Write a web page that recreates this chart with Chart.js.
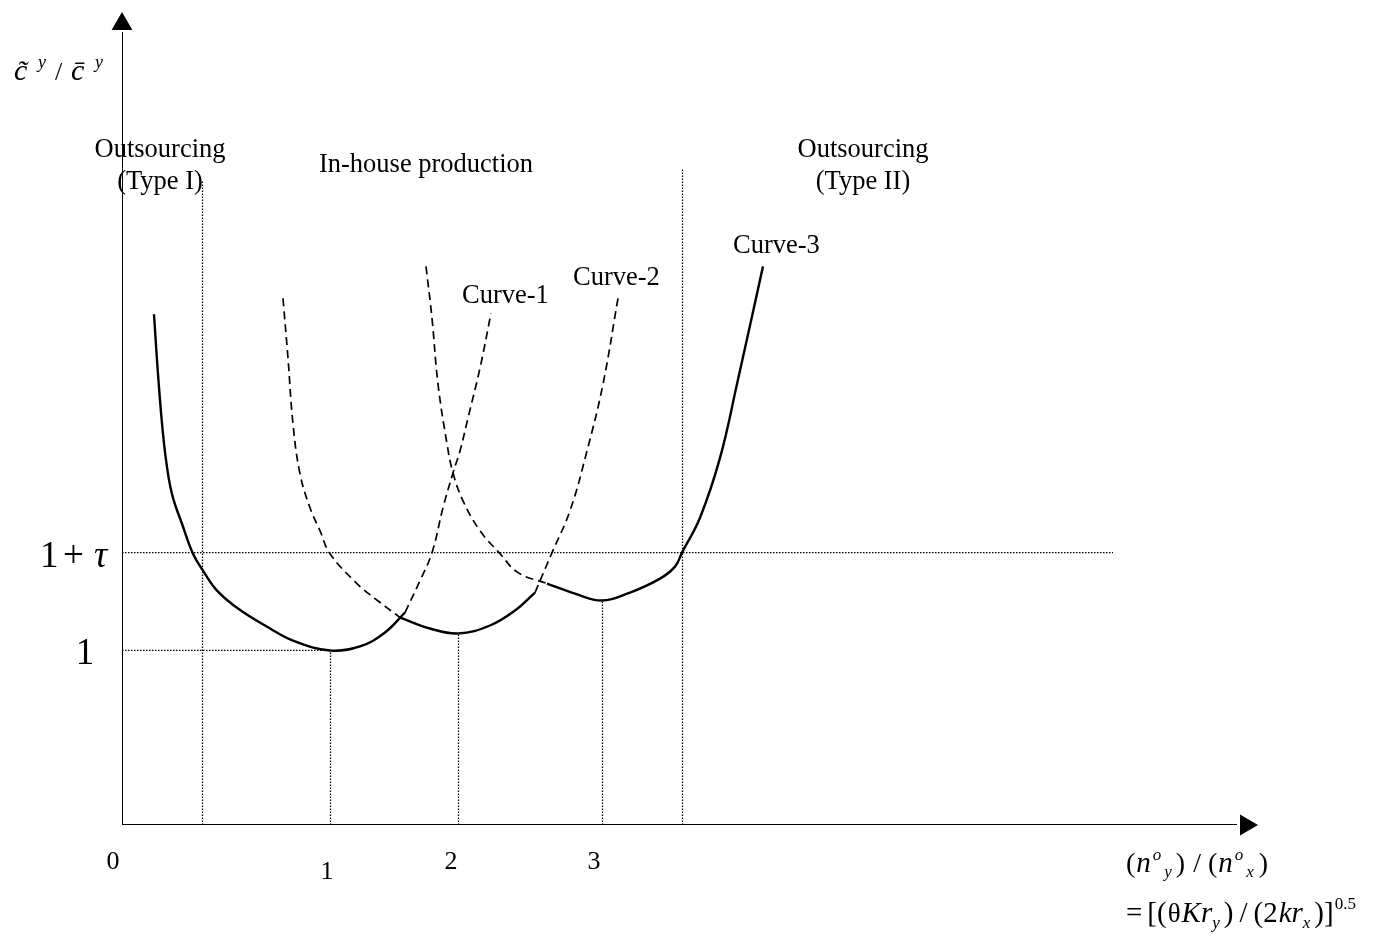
<!DOCTYPE html>
<html>
<head>
<meta charset="utf-8">
<script src="https://cdn.jsdelivr.net/npm/chart.js@4.4.1/dist/chart.umd.min.js"></script>
<style>
	html, body { margin: 0; background: #fff; }
	#wrap { width: 1374px; height: 942px; position: relative; }
</style>
</head>
<body>
<div id="wrap"><canvas id="canvas"></canvas></div>
<script>
// schematic units: 1 unit on each axis = 100 px of the original figure
const X_MAX = 11.36;
const Y_MAX = 8.15;

const xTickLabels = ["0", "1", "2", "3"];
const xTickPos = [-0.09, 2.05, 3.29, 4.72];
const yOne = 1.75;   // level "1"
const yTau = 2.73;   // level "1+τ"

// vertical dotted guides: x position and top
const vLineX = [0.805, 2.085, 3.365, 4.805, 5.605];
const vLineTop = [6.45, yOne, 1.92, 2.25, 6.57];
const tauLineEnd = 9.91;

// Curve-1 (min at "1")
const curve1Solid = [[0.32, 5.12], [0.36, 4.52], [0.41, 3.92], [0.46, 3.52], [0.51, 3.28], [0.60, 3.02],
	[0.71, 2.72], [0.81, 2.55], [0.95, 2.35], [1.16, 2.17], [1.43, 2.00], [1.73, 1.84], [2.08, 1.75],
	[2.38, 1.79], [2.63, 1.93], [2.83, 2.13]];
const curve1Dash = [[2.83, 2.13], [2.98, 2.45], [3.10, 2.73], [3.21, 3.18], [3.31, 3.53], [3.38, 3.75],
	[3.46, 4.08], [3.58, 4.58], [3.69, 5.13]];

// Curve-2 (min at "2")
const curve2DashLeft = [[1.61, 5.28], [1.66, 4.68], [1.71, 4.02], [1.78, 3.52], [1.88, 3.18], [1.98, 2.95],
	[2.08, 2.72], [2.35, 2.42], [2.53, 2.27], [2.78, 2.08]];
const curve2Solid = [[2.78, 2.08], [3.08, 1.97], [3.36, 1.92], [3.68, 2.00], [3.93, 2.15], [4.13, 2.33]];
const curve2DashRight = [[4.13, 2.33], [4.30, 2.73], [4.48, 3.15], [4.65, 3.75], [4.81, 4.42], [4.96, 5.28]];

// Curve-3 (min at "3")
const curve3Dash = [[3.04, 5.60], [3.10, 5.08], [3.16, 4.42], [3.25, 3.82], [3.31, 3.53], [3.41, 3.25],
	[3.58, 2.95], [3.78, 2.72], [3.96, 2.53], [4.25, 2.42]];
const curve3Solid = [[4.25, 2.42], [4.53, 2.32], [4.80, 2.25], [5.08, 2.33], [5.38, 2.47], [5.53, 2.59],
	[5.60, 2.73], [5.78, 3.08], [5.98, 3.68], [6.15, 4.42], [6.41, 5.60]];

const SOLID = { borderWidth: 2.4, borderDash: [], tension: 0.4 };
const DASH = { borderWidth: 1.7, borderDash: [8, 5], tension: 0.4 };
const DOT = { borderWidth: 1.3, borderDash: [1.5, 1.5] };

function seg(pts, style) {
	return Object.assign({
		data: pts.map(([x, y]) => ({ x, y })),
		borderColor: "#000",
		pointRadius: 0,
		fill: false,
	}, style);
}

const datasets = [
	seg(curve1Solid, SOLID), seg(curve1Dash, DASH),
	seg(curve2DashLeft, DASH), seg(curve2Solid, SOLID), seg(curve2DashRight, DASH),
	seg(curve3Dash, DASH), seg(curve3Solid, SOLID),
	seg([[0, yTau], [tauLineEnd, yTau]], DOT),
	seg([[0, yOne], [vLineX[1], yOne]], DOT),
	...vLineX.map((x, i) => seg([[x, 0], [x, vLineTop[i]]], DOT)),
	// axes
	seg([[0, 0], [11.15, 0]], { borderWidth: 2 }),
	seg([[0, 0], [0, 7.95]], { borderWidth: 2 }),
	// arrow heads
	{ data: [{ x: 11.24, y: 0 }], pointStyle: "triangle", pointRadius: 12, rotation: 90,
		backgroundColor: "#000", borderColor: "#000", borderWidth: 0, showLine: false, clip: false },
	{ data: [{ x: 0, y: 8.03 }], pointStyle: "triangle", pointRadius: 12, rotation: 0,
		backgroundColor: "#000", borderColor: "#000", borderWidth: 0, showLine: false, clip: false },
];

const SERIF = "'Liberation Serif', 'Times New Roman', serif";

function runs(ctx, x, y, parts) {
	for (const p of parts) {
		ctx.font = (p.i ? "italic " : "") + p.s + "px " + SERIF;
		ctx.fillText(p.t, x, y + (p.dy || 0));
		x += ctx.measureText(p.t).width + (p.g || 0);
	}
}

function put(ctx, t, x, y, size, italic) {
	ctx.font = (italic ? "italic " : "") + size + "px " + SERIF;
	ctx.fillText(t, x, y);
}

const labelsPlugin = {
	id: "labels",
	afterDraw(chart) {
		const ctx = chart.ctx;
		const xs = chart.scales.x;
		ctx.save();
		ctx.fillStyle = "#000";
		ctx.textBaseline = "alphabetic";

		ctx.textAlign = "center";
		ctx.font = "26.5px " + SERIF;
		ctx.fillText("Outsourcing", 160, 157);
		ctx.fillText("(Type I)", 160, 189);
		ctx.fillText("In-house production", 426, 172);
		ctx.fillText("Outsourcing", 863, 157);
		ctx.fillText("(Type II)", 863, 189);

		ctx.textAlign = "left";
		ctx.fillText("Curve-1", 462, 303);
		ctx.fillText("Curve-2", 573, 285);
		ctx.fillText("Curve-3", 733, 253);

		ctx.textAlign = "center";
		ctx.font = "26px " + SERIF;
		const tickBase = [869, 879, 869, 869];
		xTickLabels.forEach((t, i) => ctx.fillText(t, xs.getPixelForValue(xTickPos[i]), tickBase[i]));

		ctx.textAlign = "left";
		put(ctx, "1", 40, 567, 37);
		put(ctx, "+", 63, 567, 37);
		put(ctx, "τ", 94, 567, 37, true);
		ctx.textAlign = "center";
		put(ctx, "1", 85, 664, 37);

		// y axis title
		ctx.textAlign = "left";
		put(ctx, "c\u0303", 14, 80, 30, true);
		put(ctx, "y", 38, 68, 18, true);
		put(ctx, "/", 55, 80, 26);
		put(ctx, "c\u0304", 71, 80, 30, true);
		put(ctx, "y", 95, 68, 18, true);

		// x axis title
		runs(ctx, 1126, 872, [
			{ t: "(", s: 28, g: 1 },
			{ t: "n", i: 1, s: 29, g: 2 },
			{ t: "o", i: 1, s: 17, dy: -12, g: 3 },
			{ t: "y", i: 1, s: 17, dy: 5, g: 4 },
			{ t: ")", s: 28, g: 8 },
			{ t: "/", s: 28, g: 7 },
			{ t: "(", s: 28, g: 1 },
			{ t: "n", i: 1, s: 29, g: 2 },
			{ t: "o", i: 1, s: 17, dy: -12, g: 3 },
			{ t: "x", i: 1, s: 17, dy: 5, g: 5 },
			{ t: ")", s: 28 },
		]);
		runs(ctx, 1126, 922, [
			{ t: "=", s: 29, g: 5 },
			{ t: "[(", s: 29, g: 1 },
			{ t: "θ", s: 27, g: 1 },
			{ t: "Kr", i: 1, s: 29 },
			{ t: "y", i: 1, s: 17, dy: 6, g: 4 },
			{ t: ")", s: 29, g: 6 },
			{ t: "/", s: 29, g: 6 },
			{ t: "(2", s: 29, g: 1 },
			{ t: "kr", i: 1, s: 29 },
			{ t: "x", i: 1, s: 17, dy: 6, g: 4 },
			{ t: ")]", s: 29, g: 1 },
			{ t: "0.5", s: 17, dy: -13 },
		]);
		ctx.restore();
	},
};

const canvas = document.getElementById("canvas");
const grafico = new Chart(canvas, {
	type: "line",
	data: { datasets },
	options: {
		responsive: true,
		maintainAspectRatio: false,
		animation: false,
		layout: { padding: { left: 122, right: 1374 - 1258, top: 10, bottom: 942 - 825 } },
		plugins: { legend: { display: false }, tooltip: { enabled: false } },
		scales: {
			x: { type: "linear", min: 0, max: X_MAX, display: false },
			y: { type: "linear", min: 0, max: Y_MAX, display: false },
		},
	},
	plugins: [labelsPlugin],
});
</script>
</body>
</html>
